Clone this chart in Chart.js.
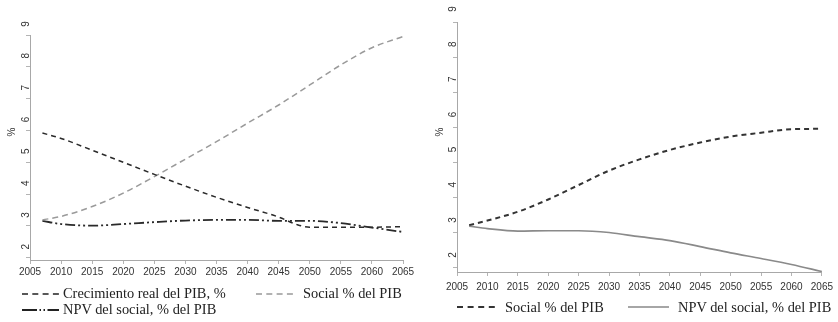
<!DOCTYPE html>
<html><head><meta charset="utf-8">
<script src="https://cdn.jsdelivr.net/npm/chart.js@4/dist/chart.umd.min.js"></script>
<style>
html,body{margin:0;padding:0;background:#fff;}
#wrap{position:relative;width:838px;height:322px;overflow:hidden;background:#fff;}
canvas{position:absolute;top:0;}
.leg{position:absolute;font-family:"Liberation Serif","Times New Roman",serif;font-size:14.4px;line-height:16px;color:#222;white-space:nowrap;}
.pct{position:absolute;font-family:"Liberation Sans",Arial,sans-serif;font-size:10px;line-height:12px;color:#333;transform:translate(-50%,-50%) rotate(-90deg);}
svg{position:absolute;overflow:visible;}
</style></head>
<body><div id="wrap">
<canvas id="c1" width="418" height="322" style="left:0"></canvas>
<canvas id="c2" width="420" height="322" style="left:418px"></canvas>
<div class="pct" style="left:12px;top:132px">%</div>
<div class="pct" style="left:440px;top:132px">%</div>

<svg style="left:22px;top:290px" width="37" height="8"><line x1="0" y1="4" x2="37" y2="4" stroke="#222" stroke-width="1.4" stroke-dasharray="6 4.3"/></svg>
<div class="leg" style="left:63px;top:285px">Crecimiento real del PIB, %</div>
<svg style="left:256px;top:290px" width="37" height="8"><line x1="0" y1="4" x2="37" y2="4" stroke="#999" stroke-width="1.4" stroke-dasharray="6 4.3"/></svg>
<div class="leg" style="left:303px;top:285px">Social % del PIB</div>
<svg style="left:22px;top:306px" width="37" height="8"><line x1="0" y1="4" x2="37" y2="4" stroke="#222" stroke-width="2.2" stroke-dasharray="15 2.5 1.5 2.5 1.5 2.5 12"/></svg>
<div class="leg" style="left:63px;top:300.5px">NPV del social, % del PIB</div>

<svg style="left:457px;top:303px" width="38" height="8"><line x1="0" y1="4" x2="38" y2="4" stroke="#333" stroke-width="1.8" stroke-dasharray="6 4.6"/></svg>
<div class="leg" style="left:505px;top:299px">Social % del PIB</div>
<svg style="left:628px;top:303px" width="41" height="8"><line x1="0" y1="4" x2="41" y2="4" stroke="#888" stroke-width="1.6"/></svg>
<div class="leg" style="left:678px;top:299px">NPV del social, % del PIB</div>
</div>
<script>
// ---- data ----
const years      = [2007, 2010, 2015, 2020, 2025, 2030, 2035, 2040, 2045, 2050, 2055, 2060, 2065];
const yearsCrec  = [2007, 2010, 2015, 2020, 2025, 2030, 2035, 2040, 2045, 2048, 2050, 2055, 2060, 2065];
const crecimientoPIB = [5.92, 5.75, 5.38, 5.00, 4.62, 4.25, 3.90, 3.58, 3.28, 3.04, 2.96, 2.96, 2.96, 2.98];
const socialLeft     = [3.19, 3.30, 3.61, 4.03, 4.55, 5.10, 5.65, 6.23, 6.80, 7.43, 8.06, 8.60, 8.95];
const npvLeft        = [3.16, 3.06, 3.01, 3.06, 3.12, 3.17, 3.19, 3.19, 3.16, 3.16, 3.09, 2.95, 2.81];
const socialRight    = [3.22, 3.35, 3.60, 3.95, 4.36, 4.77, 5.09, 5.36, 5.57, 5.74, 5.85, 5.95, 5.96];
const npvRight       = [3.19, 3.12, 3.05, 3.06, 3.06, 3.01, 2.89, 2.78, 2.61, 2.43, 2.27, 2.10, 1.90];
const xTicks = [2005, 2010, 2015, 2020, 2025, 2030, 2035, 2040, 2045, 2050, 2055, 2060, 2065];
const yTicks = [2, 3, 4, 5, 6, 7, 8, 9];

function pts(xs, ys) { return xs.map((x, i) => ({x: x, y: ys[i]})); }

function makeChart(id, cfg) {
  const tickFont = {family: '"Liberation Sans", Arial, sans-serif', size: 10};
  return new Chart(document.getElementById(id), {
    type: 'line',
    data: {datasets: cfg.datasets},
    options: {
      responsive: false, animation: false, devicePixelRatio: 1,
      layout: {padding: {top: cfg.top, right: cfg.right, left: 0, bottom: 0}},
      plugins: {legend: {display: false}, tooltip: {enabled: false}},
      elements: {point: {radius: 0}, line: {cubicInterpolationMode: 'monotone', borderCapStyle: 'butt', fill: false}},
      scales: {
        x: {
          type: 'linear', min: 2005, max: 2065,
          afterBuildTicks: s => { s.ticks = xTicks.map(v => ({value: v})); },
          afterFit: s => { s.height = cfg.xH; },
          grid: {drawOnChartArea: false, drawTicks: true, tickLength: 4, color: '#b4b4b4'},
          border: {color: '#a8a8a8', width: 1},
          ticks: {color: '#333', font: tickFont, padding: cfg.xPad, maxRotation: 0, autoSkip: false, callback: v => String(v)}
        },
        y: {
          type: 'linear', min: cfg.yMin, max: 9,
          afterBuildTicks: s => { s.ticks = yTicks.map(v => ({value: v})); },
          afterFit: s => { s.width = cfg.yW; },
          grid: {drawOnChartArea: false, drawTicks: true, tickLength: 4, color: '#b4b4b4'},
          border: {color: '#a8a8a8', width: 1},
          ticks: {color: '#333', font: tickFont, padding: -3, minRotation: 90, maxRotation: 90,
                  crossAlign: 'center', labelOffset: cfg.lo, autoSkip: false, callback: v => String(v)}
        }
      }
    }
  });
}

makeChart('c1', {
  top: 35, right: 15, yW: 30, xH: 62, xPad: 2, yMin: 1.93, lo: -11,
  datasets: [
    {data: pts(yearsCrec, crecimientoPIB), borderColor: '#2a2a2a', borderWidth: 1.5, borderDash: [5, 4]},
    {data: pts(years, socialLeft), borderColor: '#9a9a9a', borderWidth: 1.5, borderDash: [6, 4]},
    {data: pts(years, npvLeft), borderColor: '#2a2a2a', borderWidth: 1.8, borderDash: [10, 3, 2, 3, 2, 3]}
  ]
});

makeChart('c2', {
  top: 22, right: 15, yW: 39, xH: 50, xPad: 5, yMin: 1.886, lo: -13,
  datasets: [
    {data: pts(years, socialRight), borderColor: '#333', borderWidth: 2, borderDash: [5, 4]},
    {data: pts(years, npvRight), borderColor: '#8a8a8a', borderWidth: 1.7}
  ]
});
</script>
</body></html>
